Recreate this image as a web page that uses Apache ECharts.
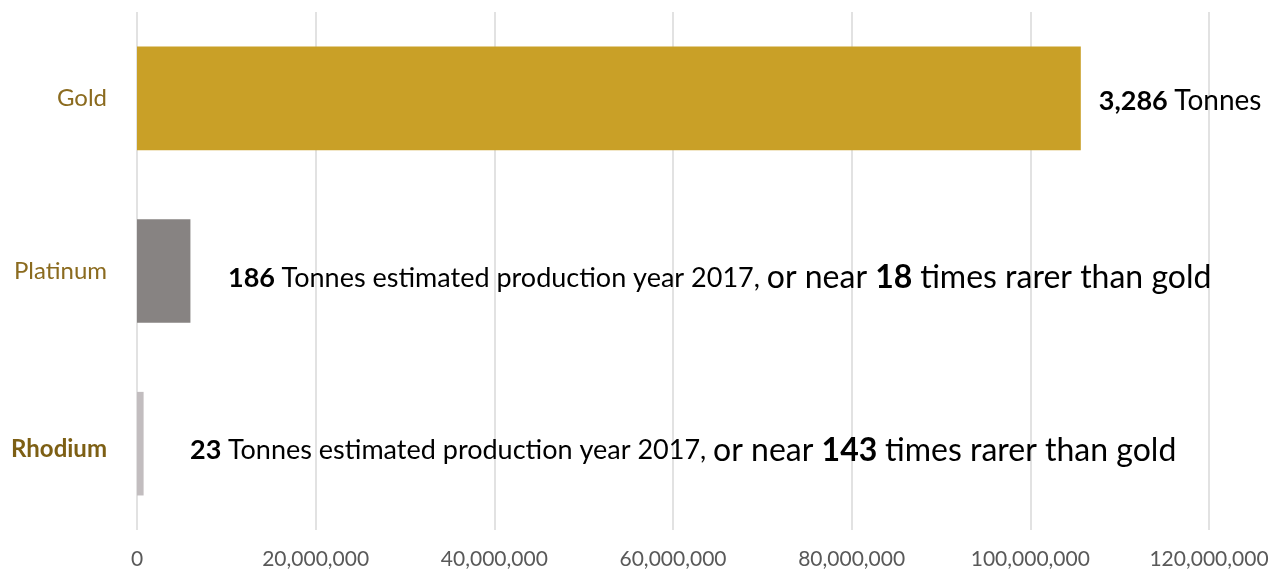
<!DOCTYPE html>
<html>
<head>
<meta charset="utf-8">
<script src="https://cdn.jsdelivr.net/npm/echarts@6/dist/echarts.min.js"></script>
<style>
  html, body { margin: 0; padding: 0; background: #fff; }
  #chart { width: 1282px; height: 574px; }
</style>
</head>
<body>
<div id="chart"></div>
<script>
// metals, top to bottom
let metals = ['Gold', 'Platinum', 'Rhodium'];
// yearly production in troy ounces
let ounces = [105650000, 5980000, 740000];
let tonnes = ['3,286', '186', '23'];
let rarer = [null, '18', '143'];
let barColors = ['#C9A027', '#878382', '#C2BDBF'];

let myChart = echarts.init(document.getElementById('chart'));
let font = 'Lato, "Noto Sans", sans-serif';

let data = ounces.map(function(v, i) {
	let item = {
		value: v,
		itemStyle: { color: barColors[i] }
	};
	if (rarer[i] == null) {
		item.label = {
			show: true,
			position: 'right',
			distance: 18,
			offset: [0, 3],
			formatter: '{b|' + tonnes[i] + ' }{g|Tonnes}'
		};
	} else {
		item.label = {
			show: true,
			position: [i == 1 ? 91 : 53, '50%'],
			verticalAlign: 'middle',
			offset: [0, 7],
			formatter: '{b|' + tonnes[i] + ' }{n|Tonnes estimated production year 2017, }{l|or near }{lb|' + rarer[i] + ' }{l|times rarer than gold}'
		};
	}
	return item;
});

let option = {
	animation: false,
	grid: {
		left: 137,
		right: 73,
		top: 12,
		bottom: 44
	},
	xAxis: {
		type: 'value',
		min: 0,
		max: 120000000,
		interval: 20000000,
		axisLine: { show: false },
		axisTick: { show: false },
		splitLine: { lineStyle: { color: '#D9D9D9', width: 1.5 } },
		axisLabel: {
			color: '#595959',
			fontFamily: font,
			fontSize: 21,
			margin: 19,
			formatter: function(v) {
				return v.toLocaleString('en-US');
			}
		}
	},
	yAxis: {
		type: 'category',
		inverse: true,
		data: metals,
		axisLine: { show: false },
		axisTick: { show: false },
		axisLabel: {
			margin: 30,
			fontFamily: font,
			fontSize: 24,
			color: '#8B6B1F',
			formatter: function(v) {
				return v == 'Rhodium' ? '{bold|' + v + '}' : v;
			},
			rich: {
				bold: { fontFamily: font, fontSize: 24, fontWeight: 'bold', color: '#7D5F14', padding: [12, 0, 0, 0] }
			}
		}
	},
	series: [{
		type: 'bar',
		data: data,
		barWidth: '60%',
		label: {
			color: '#000',
			fontFamily: font,
			fontSize: 27,
			rich: {
				b: { fontFamily: font, fontSize: 27, fontWeight: 'bold', color: '#000' },
				n: { fontFamily: font, fontSize: 27, color: '#000' },
				g: { fontFamily: font, fontSize: 28, color: '#000' },
				l: { fontFamily: font, fontSize: 32, color: '#000' },
				lb: { fontFamily: font, fontSize: 32, fontWeight: 'bold', color: '#000' }
			}
		}
	}]
};
myChart.setOption(option);
</script>
</body>
</html>
